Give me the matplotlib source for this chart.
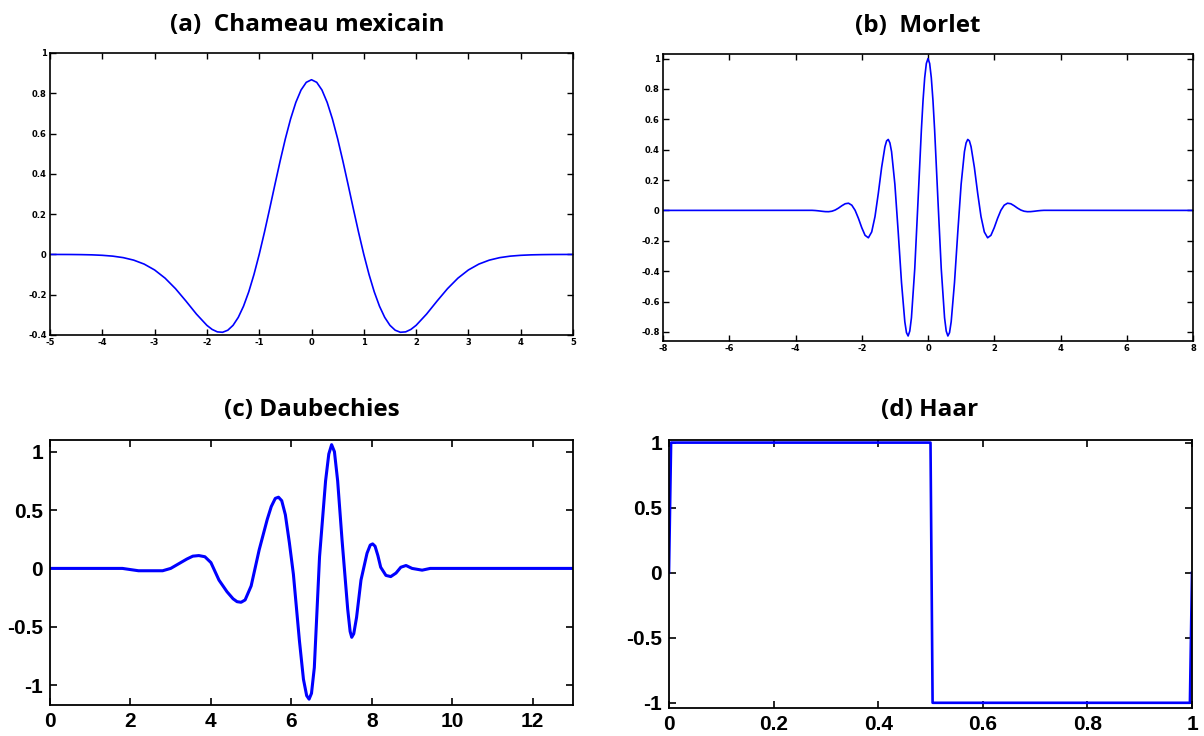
import matplotlib
matplotlib.use("Agg")
import matplotlib.pyplot as plt

plt.rcParams['axes.unicode_minus'] = False

# ---------------- data ----------------
# (a) Mexican hat
mh_x = [-5.0, -4.8, -4.6, -4.4, -4.2, -4.0, -3.8, -3.6, -3.4, -3.2, -3.0, -2.8, -2.6, -2.4, -2.2, -2.0,
        -1.9, -1.8, -1.7, -1.6, -1.5, -1.4, -1.3, -1.2, -1.1, -1.0, -0.9, -0.8, -0.7, -0.6, -0.5, -0.4,
        -0.3, -0.2, -0.1, 0.0, 0.1, 0.2, 0.3, 0.4, 0.5, 0.6, 0.7, 0.8, 0.9, 1.0, 1.1, 1.2, 1.3, 1.4,
        1.5, 1.6, 1.7, 1.8, 1.9, 2.0, 2.2, 2.4, 2.6, 2.8, 3.0, 3.2, 3.4, 3.6, 3.8, 4.0, 4.2, 4.4, 4.6,
        4.8, 5.0]
mh_y = [-0.0001, -0.0002, -0.0004, -0.0010, -0.0021, -0.0044, -0.0085, -0.0159, -0.0283, -0.0479,
        -0.0771, -0.1177, -0.1701, -0.2317, -0.2962, -0.3521,
        -0.3723, -0.3845, -0.3865, -0.3762, -0.3520, -0.3125, -0.2571, -0.1858, -0.0995, 0.0, 0.1099,
        0.2267, 0.3462, 0.4636, 0.5741, 0.6725, 0.7545, 0.8162, 0.8544, 0.8673, 0.8544, 0.8162, 0.7545,
        0.6725, 0.5741, 0.4636, 0.3462, 0.2267, 0.1099, 0.0, -0.0995, -0.1858, -0.2571, -0.3125,
        -0.3520, -0.3762, -0.3865, -0.3845, -0.3723, -0.3521, -0.2962, -0.2317, -0.1701, -0.1177,
        -0.0771, -0.0479, -0.0283, -0.0159, -0.0085, -0.0044, -0.0021, -0.0010, -0.0004, -0.0002, -0.0001]

# (b) Morlet
mo_x = [-8.0, -3.5, -3.4, -3.3, -3.2, -3.1, -3.0, -2.9, -2.8, -2.7, -2.6, -2.5, -2.4, -2.3, -2.2, -2.1,
        -2.0, -1.9, -1.8, -1.7, -1.6, -1.5, -1.4, -1.3, -1.25, -1.2, -1.15, -1.1, -1.0, -0.9, -0.8,
        -0.7, -0.65, -0.6, -0.55, -0.5, -0.4, -0.3, -0.2, -0.15, -0.1, -0.05, 0.0, 0.05, 0.1, 0.15,
        0.2, 0.3, 0.4, 0.5, 0.55, 0.6, 0.65, 0.7, 0.8, 0.9, 1.0, 1.1, 1.15, 1.2, 1.25, 1.3, 1.4, 1.5,
        1.6, 1.7, 1.8, 1.9, 2.0, 2.1, 2.2, 2.3, 2.4, 2.5, 2.6, 2.7, 2.8, 2.9, 3.0, 3.1, 3.2, 3.3, 3.4,
        3.5, 8.0]
mo_y = [0.0, 0.0005, -0.0008, -0.0030, -0.0057, -0.0080, -0.0084, -0.0053, 0.0027, 0.0155, 0.0309,
        0.0438, 0.0474, 0.0343, 0.0004, -0.0524, -0.1136, -0.1640, -0.1803, -0.1419, -0.0405, 0.1125,
        0.2830, 0.4195, 0.4576, 0.4674, 0.4445, 0.3870, 0.1721, -0.1406, -0.4746, -0.7330, -0.8048,
        -0.8269, -0.7946, -0.7070, -0.3842, 0.0676, 0.5296, 0.7235, 0.8732, 0.9677, 1.0, 0.9677,
        0.8732, 0.7235, 0.5296, 0.0676, -0.3842, -0.7070, -0.7946, -0.8269, -0.8048, -0.7330, -0.4746,
        -0.1406, 0.1721, 0.3870, 0.4445, 0.4674, 0.4576, 0.4195, 0.2830, 0.1125, -0.0405, -0.1419,
        -0.1803, -0.1640, -0.1136, -0.0524, 0.0004, 0.0343, 0.0474, 0.0438, 0.0309, 0.0155, 0.0027,
        -0.0053, -0.0084, -0.0080, -0.0057, -0.0030, -0.0008, 0.0005, 0.0]

# (c) Daubechies
db_x = [0.0, 1.8, 2.0, 2.2, 2.8, 3.0, 3.2, 3.4, 3.55, 3.7, 3.85, 4.0, 4.2, 4.4, 4.55, 4.65, 4.75,
        4.85, 5.0, 5.2, 5.4, 5.5, 5.6, 5.68, 5.76, 5.85, 5.95, 6.05, 6.2, 6.3, 6.38, 6.44, 6.5, 6.57,
        6.7, 6.85, 6.93, 7.0, 7.07, 7.15, 7.26, 7.4, 7.46, 7.5, 7.55, 7.62, 7.73, 7.88, 7.96, 8.02,
        8.08, 8.15, 8.22, 8.35, 8.47, 8.6, 8.72, 8.85, 9.0, 9.25, 9.45, 13.0]
db_y = [0.0, 0.0, -0.01, -0.02, -0.02, 0.0, 0.04, 0.08, 0.105, 0.11, 0.10, 0.05, -0.10, -0.20,
        -0.26, -0.285, -0.29, -0.27, -0.15, 0.16, 0.42, 0.53, 0.60, 0.61, 0.58, 0.46, 0.22, -0.05,
        -0.62, -0.95, -1.09, -1.12, -1.07, -0.85, 0.10, 0.75, 0.98, 1.06, 1.0, 0.75, 0.24, -0.35,
        -0.54, -0.59, -0.56, -0.42, -0.10, 0.13, 0.20, 0.21, 0.19, 0.11, 0.01, -0.06, -0.07, -0.04,
        0.01, 0.025, 0.0, -0.015, 0.0, 0.0]

# (d) Haar
ha_x = [0.0, 0.004, 0.5, 0.504, 0.996, 1.0]
ha_y = [0.0, 1.0, 1.0, -1.0, -1.0, 0.0]

titles = ['(a)  Chameau mexicain', '(b)  Morlet', '(c) Daubechies', '(d) Haar']

# ---------------- figure ----------------
W, H = 1204, 736
fig = plt.figure(figsize=(W / 100, H / 100), dpi=100)


def box(l, t, r, b):
    return [l / W, 1 - b / H, (r - l) / W, (b - t) / H]


blue = '#0000ff'

# (a)
axa = fig.add_axes(box(50, 53, 573, 335))
axa.plot(mh_x, mh_y, color=blue, lw=1.2)
axa.set_xlim(-5, 5)
axa.set_ylim(-0.4, 1.0)
axa.set_xticks([-5, -4, -3, -2, -1, 0, 1, 2, 3, 4, 5])
axa.set_yticks([-0.4, -0.2, 0, 0.2, 0.4, 0.6, 0.8, 1])
axa.set_yticklabels(['-0.4', '-0.2', '0', '0.2', '0.4', '0.6', '0.8', '1'])

# (b)
axb = fig.add_axes(box(663, 54, 1193, 341))
axb.plot(mo_x, mo_y, color=blue, lw=1.2)
axb.set_xlim(-8, 8)
axb.set_ylim(-0.86, 1.03)
axb.set_xticks([-8, -6, -4, -2, 0, 2, 4, 6, 8])
axb.set_yticks([-0.8, -0.6, -0.4, -0.2, 0, 0.2, 0.4, 0.6, 0.8, 1])
axb.set_yticklabels(['-0.8', '-0.6', '-0.4', '-0.2', '0', '0.2', '0.4', '0.6', '0.8', '1'])

for ax in (axa, axb):
    ax.tick_params(direction='in', top=True, right=True, length=4, width=1.0,
                   labelsize=6, pad=2.5)
    for lab in ax.get_xticklabels() + ax.get_yticklabels():
        lab.set_fontweight('bold')
    for s in ax.spines.values():
        s.set_linewidth(1.2)

# (c)
axc = fig.add_axes(box(50, 440, 573, 705))
axc.plot(db_x, db_y, color=blue, lw=2.2)
axc.set_xlim(0, 13)
axc.set_ylim(-1.17, 1.10)
axc.set_xticks([0, 2, 4, 6, 8, 10, 12])
axc.set_yticks([-1, -0.5, 0, 0.5, 1])
axc.set_yticklabels(['-1', '-0.5', '0', '0.5', '1'])

# (d)
axd = fig.add_axes(box(669, 440, 1192, 708))
axd.plot(ha_x, ha_y, color=blue, lw=1.9)
axd.set_xlim(0, 1)
axd.set_ylim(-1.04, 1.02)
axd.set_xticks([0, 0.2, 0.4, 0.6, 0.8, 1])
axd.set_xticklabels(['0', '0.2', '0.4', '0.6', '0.8', '1'])
axd.set_yticks([-1, -0.5, 0, 0.5, 1])
axd.set_yticklabels(['-1', '-0.5', '0', '0.5', '1'])

for ax in (axc, axd):
    ax.tick_params(direction='in', top=True, right=True, length=5, width=1.2,
                   labelsize=15, pad=5)
    for lab in ax.get_xticklabels() + ax.get_yticklabels():
        lab.set_fontweight('bold')
        lab.set_family('Liberation Sans')
    for s in ax.spines.values():
        s.set_linewidth(1.3)

# titles
tfont = dict(family='Open Sans', fontweight='bold', fontsize=17.5, ha='center', va='center')
fig.text(307 / W, 1 - 25 / H, titles[0], **tfont)
fig.text(918 / W, 1 - 26 / H, titles[1], **tfont)
fig.text(312 / W, 1 - 410 / H, titles[2], **tfont)
fig.text(930 / W, 1 - 410 / H, titles[3], **tfont)

fig.savefig('out.png', dpi=100)
